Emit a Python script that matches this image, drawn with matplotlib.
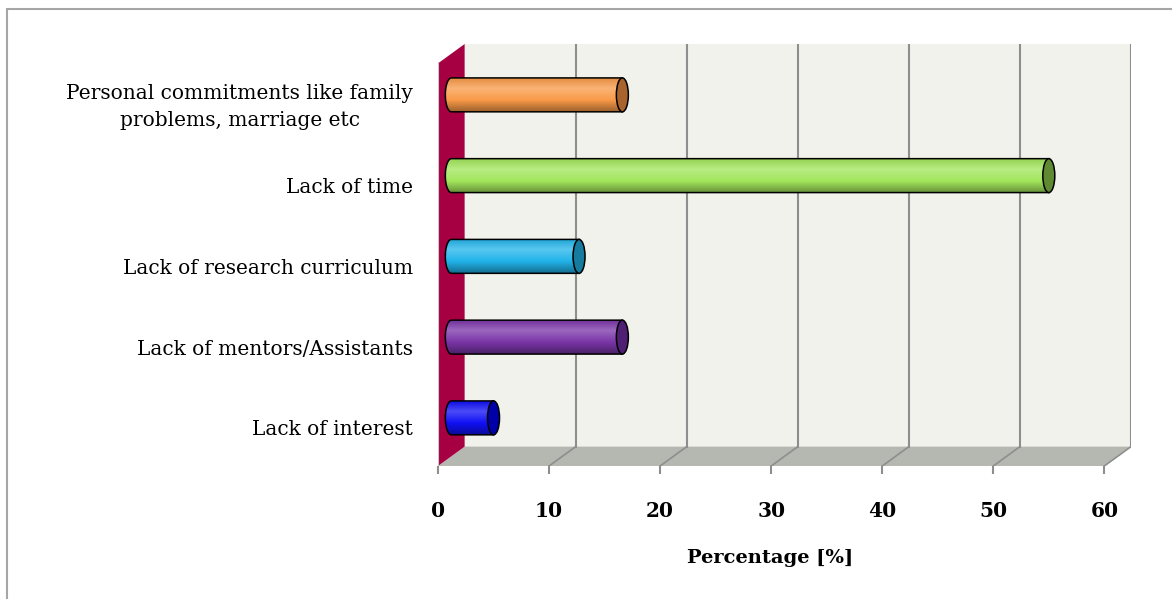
import numpy as np
import matplotlib.pyplot as plt
from matplotlib.patches import Polygon, Ellipse, Rectangle
from matplotlib.colors import to_rgb

# Reasons for not doing research (percent of respondents)
categories = ['Lack of interest',
              'Lack of mentors/Assistants',
              'Lack of research curriculum',
              'Lack of time',
              'Personal commitments like family\nproblems, marriage etc']
values = [3.8, 15.4, 11.5, 53.8, 15.4]
bar_colors = ['#1010f5', '#7a35a8', '#22b4ea', '#a2e65c', '#f99a48']
cap_colors = ['#0000a8', '#4e1f72', '#157c9f', '#5f8a32', '#a8642c']
xticks = [0, 10, 20, 30, 40, 50, 60]

plt.rcParams['font.family'] = ['DejaVu Serif']

fig = plt.figure(figsize=(11.72, 5.99), dpi=100)
ax = fig.add_axes([438 / 1172, 133 / 599, 693 / 1172, 422 / 599])

# 3D-ish depth offsets (data units)
d = 2.4
dy = 0.24
ymin, ymax = -0.446, 4.78
xmax = xticks[-1]

wall_back = '#f0f2eb'
floor_col = '#b5b7b1'
side_col = '#a60042'
grid_col = '#8e8e8e'

# back wall
ax.add_patch(Rectangle((d, ymin + dy), xmax, ymax - ymin - dy,
                       facecolor=wall_back, edgecolor='none', zorder=0))
# floor
ax.add_patch(Polygon([(0, ymin), (xmax, ymin), (xmax + d, ymin + dy), (d, ymin + dy)],
                     closed=True, facecolor=floor_col, edgecolor='none', zorder=0))
# left side wall
ax.add_patch(Polygon([(0, ymin), (d, ymin + dy), (d, ymax), (0, ymax - dy)],
                     closed=True, facecolor=side_col, edgecolor='none', zorder=1))
ax.plot([0, 0], [ymin, ymax - dy], color='#c8c8c8', lw=1.5, zorder=1)

# gridlines on wall and floor
for t in xticks[1:]:
    ax.plot([t + d, t + d], [ymin + dy, ymax], color=grid_col, lw=1.5, zorder=1)
    ax.plot([t, t + d], [ymin, ymin + dy], color=grid_col, lw=1.2, zorder=1)

# cylinders
h = 0.42
w = 1.08
theta = np.linspace(np.pi / 2, 3 * np.pi / 2, 40)
for i, (v, c, cc) in enumerate(zip(values, bar_colors, cap_colors)):
    yc = i + dy / 2 + 0.03
    x0 = d / 2
    x1 = x0 + v
    arc = np.column_stack([x0 + w / 2 * np.cos(theta), yc + h / 2 * np.sin(theta)])
    pts = np.vstack([[x1, yc + h / 2], arc, [x1, yc - h / 2]])
    body = Polygon(pts, closed=True, facecolor='none', edgecolor='black', lw=1.1, zorder=4)
    ax.add_patch(body)

    base = np.array(to_rgb(c))
    light = base + (1 - base) * 0.25
    stops = [0.0, 0.3, 0.65, 1.0]
    cols = [base * 0.92, light, base, base * 0.62]
    tt = np.linspace(0, 1, 64)
    grad = np.stack([np.interp(tt, stops, [col[k] for col in cols]) for k in range(3)], axis=1)
    img = ax.imshow(grad[:, None, :], extent=(x0 - w / 2, x1, yc - h / 2, yc + h / 2),
                    aspect='auto', zorder=3, interpolation='bilinear')
    img.set_clip_path(body)

    ax.add_patch(Ellipse((x1, yc), w, h, facecolor=cc, edgecolor='black', lw=1.1, zorder=5))

ax.set_xlim(0, xmax + d)
ax.set_ylim(ymin, ymax)
ax.set_facecolor('none')
for s in ax.spines.values():
    s.set_visible(False)

ax.set_xticks(xticks)
ax.set_xticklabels([str(t) for t in xticks], fontsize=14.5, fontweight='bold')
ax.tick_params(axis='x', length=6, width=1.5, color=grid_col, pad=19)
ax.set_yticks(range(len(categories)))
ax.set_yticklabels(categories, fontsize=14.5, multialignment='center', linespacing=1.55, va='center')
ax.tick_params(axis='y', length=0, pad=18)
ax.set_xlabel('Percentage [%]', fontsize=14, fontweight='bold')
ax.xaxis.set_label_coords(332 / 693, -0.197)

# outer chart frame
fig.patches.append(Rectangle((7 / 1172, -0.05), 1.2, 1.05 - 9 / 599, transform=fig.transFigure,
                             facecolor='none', edgecolor='#a6a6a6', lw=1.5))

plt.savefig('out.png', dpi=100)
